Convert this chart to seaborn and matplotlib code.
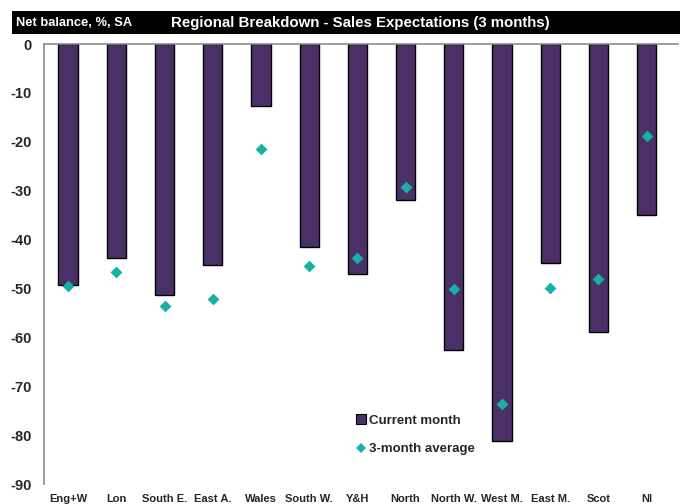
import matplotlib
matplotlib.use("Agg")
import matplotlib.pyplot as plt
from matplotlib.lines import Line2D
from matplotlib.patches import Rectangle
import seaborn as sns
import pandas as pd

regions = ["Eng+W", "Lon", "South E.", "East A.", "Wales", "South W.", "Y&H",
           "North", "North W.", "West M.", "East M.", "Scot", "NI"]
current_month = [-49.3, -43.8, -51.3, -45.3, -12.7, -41.5, -47.0,
                 -31.9, -62.6, -81.3, -44.8, -59.0, -35.0]
three_month_avg = [-49.4, -46.7, -53.5, -52.1, -21.5, -45.5, -43.7,
                   -29.3, -50.2, -73.6, -49.9, -48.1, -18.8]
y_ticks = [0, -10, -20, -30, -40, -50, -60, -70, -80, -90]

bar_color = "#4b3068"
diamond_color = "#16b0a4"

sns.set_theme(style="white")
plt.rcParams["font.family"] = ["Liberation Sans", "DejaVu Sans"]

df = pd.DataFrame({"region": regions, "current": current_month, "avg": three_month_avg})

fig = plt.figure(figsize=(6.88, 5.04), dpi=100)
ax = fig.add_axes([44 / 688, 20 / 504, 634 / 688, 440 / 504])

sns.barplot(data=df, x="region", y="current", color=bar_color, width=0.40,
            edgecolor="black", linewidth=1.0, saturation=1, ax=ax)
sns.stripplot(data=df, x="region", y="avg", marker="D", size=6, jitter=False,
              color=diamond_color, linewidth=0, ax=ax, zorder=5)

ax.set_ylim(-90, 0)
ax.set_xlim(-0.5, 12.65)
ax.set_yticks(y_ticks)
ax.set_yticklabels([str(v) for v in y_ticks], fontsize=10.5, fontweight="bold")
ax.set_xticks(range(len(regions)))
ax.set_xticklabels(regions, fontsize=8, fontweight="bold")
ax.tick_params(axis="x", length=0, pad=7)
ax.tick_params(axis="y", length=0, pad=9)
ax.set_xlabel("")
ax.set_ylabel("")

for side in ["right", "bottom"]:
    ax.spines[side].set_visible(False)
for side in ["left", "top"]:
    ax.spines[side].set_color("#8c8c8c")
    ax.spines[side].set_linewidth(1.2)

handles = [
    Line2D([], [], marker="s", linestyle="none", markersize=7,
           markerfacecolor=bar_color, markeredgecolor="black", markeredgewidth=0.8),
    Line2D([], [], marker="D", linestyle="none", markersize=5,
           markerfacecolor=diamond_color, markeredgewidth=0),
]
leg = ax.legend(handles, ["Current month", "3-month average"], loc="upper left",
                bbox_to_anchor=(0.475, 0.185), frameon=False, handlelength=0.6,
                handletextpad=0.3, labelspacing=1.25, prop={"size": 9.5, "weight": "bold"})

# header band
fig.patches.append(Rectangle((12 / 688, 1 - 34 / 504), 668 / 688, 23 / 504,
                             transform=fig.transFigure, facecolor="black",
                             edgecolor="none", zorder=0))
fig.text(16 / 688, 1 - 22.5 / 504, "Net balance, %, SA", color="white",
         fontsize=9.3, fontweight="bold", va="center", ha="left")
fig.text(360 / 688, 1 - 22.5 / 504, "Regional Breakdown - Sales Expectations (3 months)",
         color="white", fontsize=10.8, fontweight="bold", va="center", ha="center")

fig.savefig("out.png", dpi=100)
